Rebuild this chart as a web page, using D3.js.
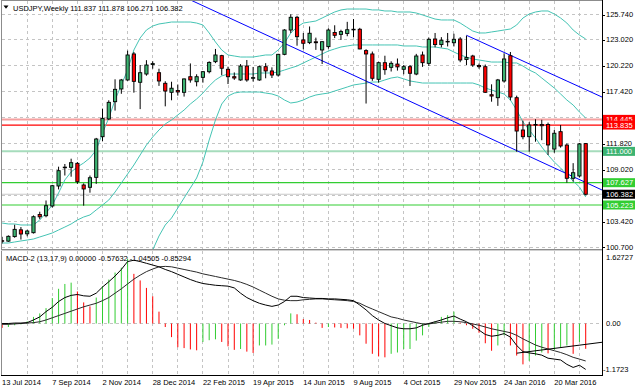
<!DOCTYPE html>
<html>
<head>
<meta charset="utf-8">
<script src="https://cdn.jsdelivr.net/npm/d3@7"></script>
<style>
  html, body { margin: 0; padding: 0; background: #fff; }
  svg { display: block; font-family: "Liberation Sans", Arial, sans-serif; }
</style>
</head>
<body>
<svg id="chart" width="635" height="391"></svg>
<script>
"use strict";

/* ── Data: USDJPY weekly, bar 0 = week of 13 Jul 2014 ─────────── */
const dateLabels = ["13 Jul 2014", "7 Sep 2014", "2 Nov 2014", "28 Dec 2014", "22 Feb 2015", "19 Apr 2015",
  "14 Jun 2015", "9 Aug 2015", "4 Oct 2015", "29 Nov 2015", "24 Jan 2016", "20 Mar 2016"];

const openPx = [101.38, 101.33, 101.82, 102.55, 102.12, 102.24, 104.20, 104.07, 105.12, 107.27,
  109.25, 109.28, 109.71, 107.38, 107.13, 108.20, 112.58, 114.49, 116.35, 117.72,
  118.69, 121.49, 118.44, 119.33, 120.35, 119.47, 118.33, 117.36, 117.55, 117.36,
  119.04, 118.50, 118.97, 119.58, 120.66, 121.31, 119.84, 119.04, 118.69, 120.19,
  118.90, 118.69, 120.12, 119.66, 119.22, 121.45, 124.07, 125.44, 123.00, 122.71,
  122.80, 121.92, 122.28, 123.80, 123.60, 123.70, 124.10, 124.15, 121.85, 121.49,
  118.76, 120.55, 120.05, 120.40, 119.84, 120.12, 119.33, 121.38, 120.48, 123.10,
  122.50, 122.85, 122.70, 123.10, 120.90, 121.27, 120.25, 120.12, 117.10, 116.78,
  118.58, 121.30, 116.78, 113.30, 112.58, 113.84, 113.90, 113.90, 111.25, 113.12,
  111.68, 108.10, 108.35, 111.837];
const highPx = [101.80, 101.95, 103.10, 102.85, 102.55, 104.10, 104.50, 105.71, 107.39, 109.35,
  109.64, 110.21, 109.85, 107.55, 108.40, 112.45, 115.60, 116.50, 118.76, 118.80,
  121.85, 121.70, 120.30, 120.82, 120.70, 119.90, 118.55, 118.50, 118.20, 118.85,
  120.47, 119.30, 119.65, 120.70, 122.03, 121.40, 120.12, 119.50, 120.40, 120.84,
  120.09, 120.25, 120.50, 120.05, 121.50, 124.15, 125.76, 125.60, 123.75, 124.45,
  123.25, 122.85, 124.25, 124.58, 124.10, 124.95, 125.25, 124.30, 122.00, 121.75,
  120.65, 121.30, 120.70, 121.00, 120.30, 120.30, 121.50, 121.75, 123.25, 123.75,
  123.30, 123.75, 123.67, 123.30, 123.46, 121.40, 120.45, 120.35, 118.22, 118.80,
  121.56, 121.70, 117.00, 114.30, 114.15, 114.46, 114.40, 114.10, 113.30, 113.84,
  111.85, 109.73, 111.90, 111.878];
const lowPx = [101.08, 101.25, 101.70, 101.50, 101.85, 102.15, 103.70, 103.90, 104.95, 106.90,
  108.40, 108.27, 107.50, 105.15, 106.55, 107.50, 112.10, 114.38, 115.39, 117.20,
  118.60, 117.32, 115.55, 119.15, 119.90, 118.05, 115.85, 116.50, 117.00, 116.90,
  118.40, 118.00, 118.40, 119.40, 120.50, 119.20, 118.25, 118.70, 118.60, 118.50,
  118.52, 118.60, 118.87, 118.90, 119.05, 121.35, 123.75, 122.38, 122.00, 122.55,
  121.93, 120.41, 122.05, 123.20, 123.00, 123.40, 123.30, 122.00, 116.15, 118.60,
  118.40, 119.25, 119.60, 119.70, 119.30, 118.04, 119.20, 120.10, 120.20, 122.20,
  122.20, 122.30, 122.30, 120.60, 120.30, 120.10, 119.90, 117.30, 116.35, 115.90,
  118.40, 116.50, 110.96, 112.30, 110.96, 112.04, 112.20, 110.61, 110.85, 111.40,
  107.63, 107.74, 108.20, 106.271];
const closePx = [101.35, 101.85, 102.60, 102.10, 102.42, 103.96, 103.95, 105.15, 107.30, 108.92,
  109.30, 109.78, 107.73, 106.95, 108.16, 112.33, 114.56, 116.28, 117.68, 118.69,
  121.38, 118.54, 119.47, 120.30, 120.45, 118.58, 117.50, 117.80, 117.40, 118.80,
  118.69, 119.04, 119.58, 120.58, 121.38, 119.95, 119.04, 118.90, 120.19, 118.69,
  118.94, 120.12, 119.66, 119.22, 121.45, 124.07, 125.44, 123.35, 122.64, 123.72,
  122.70, 122.81, 124.07, 123.50, 123.90, 124.10, 124.15, 122.03, 121.49, 118.87,
  120.55, 119.80, 120.48, 120.10, 120.12, 119.41, 121.27, 120.55, 123.07, 122.50,
  122.97, 122.80, 123.07, 120.84, 121.10, 120.30, 120.12, 117.36, 116.96, 118.69,
  120.95, 116.85, 113.19, 112.58, 113.84, 113.90, 113.76, 111.69, 112.95, 111.58,
  108.10, 108.70, 111.80, 106.382];

/* Bollinger bands */
const bbUpper = [103.28, 103.18, 103.18, 103.07, 103.07, 103.07, 103.61, 104.36, 105.22, 106.52,
  107.92, 108.78, 109.32, 109.75, 110.29, 111.15, 112.98, 114.59, 116.53, 118.15,
  119.76, 121.92, 123.21, 124.07, 124.50, 124.72, 124.82, 124.93, 124.93, 124.93,
  124.93, 124.82, 124.61, 123.75, 122.78, 121.92, 121.38, 121.27, 121.16, 121.16,
  121.16, 121.27, 121.38, 121.38, 121.92, 122.67, 123.75, 124.39, 124.82, 124.93,
  125.04, 125.36, 125.69, 126.01, 126.23, 126.33, 126.33, 126.33, 126.33, 126.23,
  126.23, 126.12, 126.12, 126.01, 126.01, 126.01, 125.90, 125.69, 125.47, 125.25,
  125.15, 125.15, 125.15, 124.82, 124.39, 123.96, 123.75, 123.75, 123.86, 123.96,
  124.07, 124.18, 124.61, 125.36, 125.79, 126.01, 126.12, 126.12, 125.79, 125.36,
  124.82, 124.07, 123.53, 123.10];
const bbMiddle = [101.13, 101.13, 101.24, 101.35, 101.45, 101.56, 101.78, 101.99, 102.21, 102.53,
  102.85, 103.18, 103.61, 103.93, 104.15, 104.69, 105.22, 105.76, 106.62, 107.59,
  108.56, 109.53, 110.61, 111.68, 112.55, 113.30, 113.95, 114.38, 114.92, 115.45,
  116.10, 116.64, 117.28, 118.04, 118.69, 119.12, 119.33, 119.33, 119.33, 119.33,
  119.33, 119.44, 119.44, 119.44, 119.55, 119.76, 119.98, 120.19, 120.52, 120.84,
  121.16, 121.49, 121.81, 122.03, 122.24, 122.35, 122.46, 122.46, 122.46, 122.46,
  122.46, 122.46, 122.46, 122.46, 122.35, 122.35, 122.35, 122.24, 122.24, 122.24,
  122.13, 122.03, 121.70, 121.38, 121.16, 120.95, 120.84, 120.73, 120.62, 120.62,
  120.62, 120.52, 120.52, 120.19, 119.76, 119.44, 118.90, 118.36, 117.82, 117.18,
  116.53, 115.99, 115.24, 114.59];
const bbLower = [98.98, 99.08, 99.30, 99.62, 99.84, 100.05, 99.95, 99.62, 99.19, 98.55,
  97.79, 97.57, 97.90, 98.12, 98.01, 98.22, 97.47, 96.93, 96.71, 97.04,
  97.36, 97.14, 98.01, 99.30, 100.38, 101.88, 103.07, 103.82, 104.90, 105.98,
  107.05, 108.13, 109.85, 112.22, 114.38, 116.10, 116.96, 117.28, 117.39, 117.39,
  117.39, 117.39, 117.28, 117.18, 116.96, 116.53, 116.21, 116.31, 116.53, 116.85,
  117.07, 117.18, 117.28, 117.50, 117.71, 117.93, 118.15, 118.25, 118.36, 118.47,
  118.47, 118.69, 118.90, 119.01, 118.81, 118.58, 118.47, 118.36, 118.36, 118.36,
  118.36, 118.36, 118.36, 118.36, 118.36, 118.36, 118.15, 117.82, 117.61, 117.39,
  117.18, 116.53, 115.45, 114.16, 113.30, 112.44, 111.47, 110.61, 109.85, 109.21,
  108.45, 107.81, 107.16, 106.09];

/* MACD-2 (13,17,9) */
const macdMain = [0.00, 0.00, 0.01, 0.01, 0.02, 0.08, 0.15, 0.27, 0.37, 0.50,
  0.59, 0.64, 0.66, 0.63, 0.62, 0.69, 0.83, 0.95, 1.08, 1.23,
  1.41, 1.44, 1.41, 1.37, 1.33, 1.29, 1.23, 1.18, 1.12, 1.06,
  1.00, 0.95, 0.91, 0.89, 0.87, 0.86, 0.85, 0.81, 0.69, 0.59,
  0.52, 0.46, 0.42, 0.39, 0.42, 0.50, 0.62, 0.62, 0.59, 0.58,
  0.57, 0.57, 0.56, 0.56, 0.55, 0.54, 0.52, 0.42, 0.31, 0.18,
  0.08, 0.00, -0.05, -0.10, -0.12, -0.12, -0.10, -0.04, 0.00, 0.04,
  0.08, 0.13, 0.17, 0.10, 0.04, -0.05, -0.15, -0.25, -0.29, -0.27,
  -0.23, -0.31, -0.50, -0.64, -0.67, -0.69, -0.72, -0.79, -0.81, -0.83,
  -0.93, -1.00, -0.95, -1.045];
const macdSignal = [-0.02, -0.02, -0.01, 0.00, 0.01, 0.02, 0.04, 0.08, 0.13, 0.18,
  0.23, 0.28, 0.33, 0.38, 0.42, 0.46, 0.52, 0.59, 0.69, 0.79,
  0.90, 1.01, 1.10, 1.18, 1.24, 1.29, 1.30, 1.29, 1.26, 1.23,
  1.20, 1.17, 1.13, 1.10, 1.07, 1.04, 1.01, 0.98, 0.94, 0.89,
  0.83, 0.76, 0.69, 0.62, 0.56, 0.53, 0.52, 0.52, 0.54, 0.55,
  0.56, 0.56, 0.55, 0.54, 0.53, 0.52, 0.50, 0.46, 0.39, 0.33,
  0.27, 0.21, 0.15, 0.12, 0.08, 0.05, 0.02, -0.01, -0.01, 0.01,
  0.03, 0.05, 0.05, 0.04, 0.02, -0.01, -0.04, -0.08, -0.12, -0.15,
  -0.18, -0.21, -0.27, -0.35, -0.42, -0.49, -0.54, -0.58, -0.62, -0.66,
  -0.71, -0.77, -0.81, -0.853];
const macdHist = [-0.10, -0.08, -0.04, -0.02, 0.05, 0.15, 0.23, 0.35, 0.58, 0.79,
  0.90, 0.93, 0.73, 0.48, 0.39, 0.59, 0.85, 1.00, 1.16, 1.27,
  1.47, 1.13, 0.98, 0.81, 0.62, 0.27, -0.08, -0.31, -0.54, -0.56,
  -0.59, -0.61, -0.42, -0.38, -0.36, -0.42, -0.52, -0.60, -0.58, -0.64,
  -0.67, -0.50, -0.50, -0.48, -0.35, -0.04, 0.23, 0.21, 0.10, 0.08,
  0.02, -0.10, -0.08, -0.09, -0.10, -0.11, -0.12, -0.27, -0.46, -0.69,
  -0.75, -0.77, -0.69, -0.66, -0.58, -0.58, -0.39, -0.27, -0.08, 0.05,
  0.15, 0.19, 0.27, 0.02, -0.04, -0.12, -0.21, -0.45, -0.62, -0.50,
  -0.27, -0.50, -0.73, -0.93, -0.85, -0.73, -0.66, -0.68, -0.60, -0.54,
  -0.50, -0.69, -0.42, -0.57632];

/* Axes, levels and drawn objects */
const priceTicks = [125.74, 123.02, 120.22, 117.42, 114.62, 111.82, 109.02, 106.22, 103.42, 100.70];
const priceTickText = ["125.740", "123.020", "120.220", "117.420", "", "111.820", "109.020", "", "103.420", "100.700"];
const levelPrices = [114.445, 113.835, 111.000, 107.627, 106.382, 105.223];
const macdTicks = [1.62727, 0.00, -1.1723];
const macdTickText = ["1.62727", "0.00", "-1.1723"];
const channelLow = [[31, 127.00], [93, 107.65]];   // [bar, price]
const channelHigh = [[74, 123.50], [93, 117.65]];
const macdTrend = [[82, -0.676], [93, -0.475]];

/* ── Style ────────────────────────────────────────────────── */
const BULL = "#3cb371", BEAR = "#ff0000";
const BB_COLOR = "#45c4b4";
const LEVEL_STYLE = [
  { line: "#f5a0a0", w: 2,   box: "#ff0000", text: "#fff" },
  { line: "#ff0000", w: 1.2, box: "#ff0000", text: "#fff" },
  { line: "#a6dcbc", w: 2,   box: "#3cb371", text: "#fff" },
  { line: "#32cd32", w: 1.2, box: "#32cd32", text: "#fff" },
  { line: "#c8c8c8", w: 1,   box: "#000000", text: "#fff" },
  { line: "#32cd32", w: 1.2, box: "#32cd32", text: "#fff" },
];

/* ── Layout ───────────────────────────────────────────────── */
const MAIN = { left: 2, right: 602, top: 1, bottom: 249 };
const SUB  = { left: 2, right: 602, top: 251, bottom: 375 };
const FONT = 7.5;
const nBars = closePx.length;

const svg = d3.select("#chart");

const x  = d3.scaleLinear().domain([0, nBars - 1]).range([2.1, 585.7]);
const y  = d3.scaleLinear().domain([100.70, 125.74]).range([247, 14.5]);
const ym = d3.scaleLinear().domain([-1.1723, 1.62727]).range([375, 252]);

const defs = svg.append("defs");
defs.append("clipPath").attr("id", "clipMain").append("rect")
  .attr("x", MAIN.left).attr("y", MAIN.top)
  .attr("width", MAIN.right - MAIN.left).attr("height", MAIN.bottom - MAIN.top);
defs.append("clipPath").attr("id", "clipSub").append("rect")
  .attr("x", SUB.left).attr("y", SUB.top)
  .attr("width", SUB.right - SUB.left).attr("height", SUB.bottom - SUB.top);

/* ── Grid ─────────────────────────────────────────────────── */
const gridBars = d3.range(4, nBars, 4);
const grid = svg.append("g").attr("stroke", "#c4c4c4").attr("stroke-dasharray", "3,3")
  .attr("shape-rendering", "crispEdges");
grid.selectAll(".vgm").data(gridBars).join("line")
  .attr("x1", d => x(d)).attr("x2", d => x(d))
  .attr("y1", MAIN.top).attr("y2", MAIN.bottom);
grid.selectAll(".vgs").data(gridBars).join("line")
  .attr("x1", d => x(d)).attr("x2", d => x(d))
  .attr("y1", SUB.top).attr("y2", SUB.bottom);
grid.selectAll(".hg").data(priceTicks).join("line")
  .attr("x1", MAIN.left).attr("x2", MAIN.right)
  .attr("y1", d => y(d)).attr("y2", d => y(d));
grid.append("line")
  .attr("x1", SUB.left).attr("x2", SUB.right)
  .attr("y1", ym(0)).attr("y2", ym(0));

/* ── Main window ──────────────────────────────────────────── */
const main = svg.append("g").attr("clip-path", "url(#clipMain)");

// horizontal levels
main.selectAll(".lvl").data(levelPrices).join("line")
  .attr("x1", MAIN.left).attr("x2", MAIN.right)
  .attr("y1", d => y(d)).attr("y2", d => y(d))
  .attr("stroke", (d, i) => LEVEL_STYLE[i].line)
  .attr("stroke-width", (d, i) => LEVEL_STYLE[i].w);

// Bollinger bands
const idx = d3.range(nBars);
[bbUpper, bbMiddle, bbLower].forEach(band => {
  main.append("path")
    .attr("d", d3.line().x(i => x(i)).y(i => y(band[i]))(idx))
    .attr("fill", "none").attr("stroke", BB_COLOR).attr("stroke-width", 1);
});

// channel lines, extended to the right edge
const rightBar = x.invert(MAIN.right);
function rayPath(pts, yScale, fromBar, toBar) {
  const [[b0, v0], [b1, v1]] = pts;
  const k = (v1 - v0) / (b1 - b0);
  return d3.line()([[x(fromBar), yScale(v0 + k * (fromBar - b0))],
                    [x(toBar),   yScale(v0 + k * (toBar - b0))]]);
}
main.append("path").attr("d", rayPath(channelLow, y, 20, rightBar))
  .attr("stroke", "#0000ff").attr("stroke-width", 1).attr("fill", "none");
main.append("path").attr("d", rayPath(channelHigh, y, channelHigh[0][0], rightBar))
  .attr("stroke", "#0000ff").attr("stroke-width", 1).attr("fill", "none");

// candles
const candles = main.selectAll(".candle").data(idx).join("g");
candles.append("line")
  .attr("x1", i => x(i)).attr("x2", i => x(i))
  .attr("y1", i => y(highPx[i])).attr("y2", i => y(lowPx[i]))
  .attr("stroke", "#000").attr("stroke-width", 1);
candles.append("rect")
  .attr("x", i => x(i) - 1.6).attr("width", 3.2)
  .attr("y", i => y(Math.max(openPx[i], closePx[i])))
  .attr("height", i => Math.max(0.6, Math.abs(y(openPx[i]) - y(closePx[i]))))
  .attr("fill", i => closePx[i] >= openPx[i] ? BULL : BEAR)
  .attr("stroke", "#000").attr("stroke-width", 0.9);

/* ── MACD window ──────────────────────────────────────────── */
const sub = svg.append("g").attr("clip-path", "url(#clipSub)");
sub.selectAll(".hist").data(idx).join("rect")
  .attr("x", i => x(i) - 0.5).attr("width", 1)
  .attr("y", i => Math.min(ym(0), ym(macdHist[i])))
  .attr("height", i => Math.abs(ym(macdHist[i]) - ym(0)))
  .attr("fill", i => (i === 0 || macdHist[i] < macdHist[i - 1]) ? "#ff0000" : "#32cd32");
sub.append("path")
  .attr("d", d3.line().x(i => x(i)).y(i => ym(macdSignal[i]))(idx))
  .attr("fill", "none").attr("stroke", "#2a2a2a").attr("stroke-width", 1);
sub.append("path")
  .attr("d", d3.line().x(i => x(i)).y(i => ym(macdMain[i]))(idx))
  .attr("fill", "none").attr("stroke", "#000").attr("stroke-width", 1);
sub.append("path").attr("d", rayPath(macdTrend, ym, macdTrend[0][0], rightBar))
  .attr("stroke", "#000").attr("stroke-width", 1).attr("fill", "none");

/* ── Frames ───────────────────────────────────────────────── */
const frame = svg.append("g").attr("shape-rendering", "crispEdges").attr("fill", "none");
frame.append("line").attr("x1", 1.5).attr("x2", 1.5).attr("y1", 0).attr("y2", SUB.bottom).attr("stroke", "#8c8c8c");
frame.append("line").attr("x1", 1).attr("x2", 602).attr("y1", 0.5).attr("y2", 0.5).attr("stroke", "#8c8c8c");
frame.append("line").attr("x1", 1).attr("x2", 602).attr("y1", 249.5).attr("y2", 249.5).attr("stroke", "#8c8c8c");
frame.append("line").attr("x1", 1).attr("x2", 602).attr("y1", 250.5).attr("y2", 250.5).attr("stroke", "#d0d0d0");
frame.append("line").attr("x1", 1).attr("x2", 603).attr("y1", SUB.bottom + 0.5).attr("y2", SUB.bottom + 0.5).attr("stroke", "#000");
frame.append("line").attr("x1", 602.5).attr("x2", 602.5).attr("y1", 0).attr("y2", SUB.bottom + 1).attr("stroke", "#000");

/* ── Price axis ───────────────────────────────────────────── */
const axis = svg.append("g").attr("font-size", FONT).attr("fill", "#000");
axis.selectAll(".tk").data(priceTicks).join("line")
  .attr("x1", 602).attr("x2", 605).attr("y1", d => Math.round(y(d)) + 0.5).attr("y2", d => Math.round(y(d)) + 0.5)
  .attr("stroke", "#000");
axis.selectAll(".tl").data(priceTicks).join("text")
  .attr("x", 606).attr("y", d => y(d) + 2.7)
  .text((d, i) => priceTickText[i]);

// level labels (the two red ones overlap, as on the terminal)
const lv = axis.selectAll(".lv").data(levelPrices).join("g");
lv.append("rect").attr("x", 603).attr("width", 32)
  .attr("y", d => y(d) - 4.5).attr("height", 9)
  .attr("fill", (d, i) => LEVEL_STYLE[i].box);
lv.append("text").attr("x", 606).attr("y", d => y(d) + 2.7)
  .attr("fill", (d, i) => LEVEL_STYLE[i].text)
  .text(d => d.toFixed(3));

// MACD axis
axis.selectAll(".mtl").data(macdTicks).join("text")
  .attr("x", (d, i) => i === 2 ? 603 : 606)
  .attr("y", (d, i) => i === 0 ? SUB.top + 8.5 : i === 2 ? SUB.bottom - 3.5 : ym(d) + 2.7)
  .text((d, i) => macdTickText[i]);

/* ── Time axis ────────────────────────────────────────────── */
axis.selectAll(".dl").data(dateLabels).join("text")
  .attr("x", (d, i) => x(i * 8)).attr("y", 384.5)
  .text(d => d);

/* ── Titles ───────────────────────────────────────────────── */
svg.append("path").attr("d", "M3.5,5.5 L8.5,5.5 L6,8.8 Z").attr("fill", "#000");
svg.append("text").attr("x", 13).attr("y", 11).attr("font-size", FONT)
  .text("USDJPY,Weekly  111.837 111.878 106.271 106.382");
svg.append("text").attr("x", 6).attr("y", 260.5).attr("font-size", FONT)
  .text("MACD-2 (13,17,9) 0.00000 -0.57632 -1.04505 -0.85294");
</script>
</body>
</html>
